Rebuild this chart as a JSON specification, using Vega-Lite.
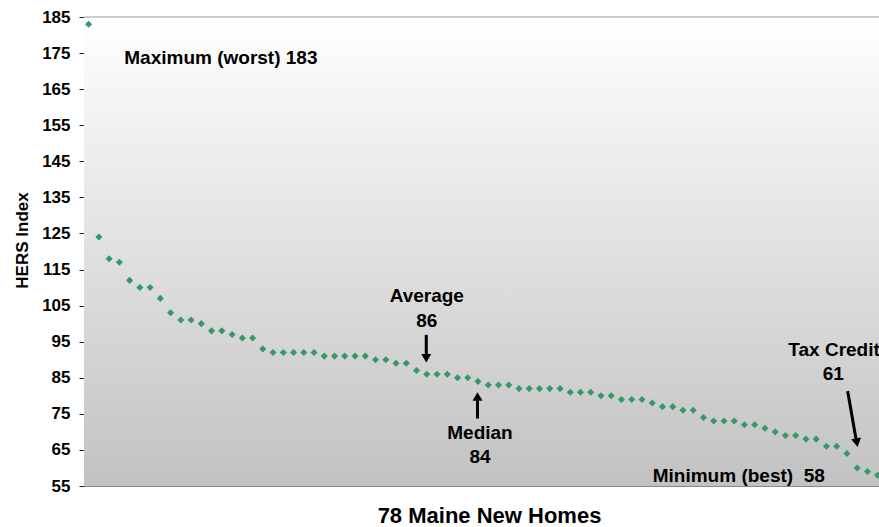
{
  "$schema": "https://vega.github.io/schema/vega-lite/v6.json",
  "autosize": "none",
  "width": 795,
  "height": 469,
  "padding": {"left": 84, "top": 17, "right": 0, "bottom": 41},
  "background": "white",
  "config": {
    "view": {"stroke": null},
    "axisX": {
      "labels": false, "ticks": false, "grid": false,
      "domainColor": "#888888", "domainWidth": 1,
      "titleFont": "Liberation Sans", "titleFontWeight": "bold", "titleFontSize": 22, "titleColor": "#000000",
      "titleX": 405, "titleY": 36, "titleBaseline": "alphabetic", "titleAlign": "center"
    },
    "axisY": {
      "labelOverlap": false, "grid": false,
      "domainColor": "#444444", "domainWidth": 1,
      "tickColor": "#222222", "tickSize": 5,
      "labelFont": "Liberation Sans", "labelFontWeight": "bold", "labelFontSize": 17, "labelColor": "#000000",
      "labelPadding": 9,
      "titleFont": "Liberation Sans", "titleFontWeight": "bold", "titleFontSize": 17, "titleColor": "#000000",
      "titleX": -57, "titleY": 223, "titleBaseline": "alphabetic", "titleAlign": "center", "titleAngle": 270
    }
  },
  "data": {"values": [{}]},
  "datasets": {
    "homes": [
      {"home": 1, "hers": 183}, {"home": 2, "hers": 124}, {"home": 3, "hers": 118}, {"home": 4, "hers": 117},
      {"home": 5, "hers": 112}, {"home": 6, "hers": 110}, {"home": 7, "hers": 110}, {"home": 8, "hers": 107},
      {"home": 9, "hers": 103}, {"home": 10, "hers": 101}, {"home": 11, "hers": 101}, {"home": 12, "hers": 100},
      {"home": 13, "hers": 98}, {"home": 14, "hers": 98}, {"home": 15, "hers": 97}, {"home": 16, "hers": 96},
      {"home": 17, "hers": 96}, {"home": 18, "hers": 93}, {"home": 19, "hers": 92}, {"home": 20, "hers": 92},
      {"home": 21, "hers": 92}, {"home": 22, "hers": 92}, {"home": 23, "hers": 92}, {"home": 24, "hers": 91},
      {"home": 25, "hers": 91}, {"home": 26, "hers": 91}, {"home": 27, "hers": 91}, {"home": 28, "hers": 91},
      {"home": 29, "hers": 90}, {"home": 30, "hers": 90}, {"home": 31, "hers": 89}, {"home": 32, "hers": 89},
      {"home": 33, "hers": 87}, {"home": 34, "hers": 86}, {"home": 35, "hers": 86}, {"home": 36, "hers": 86},
      {"home": 37, "hers": 85}, {"home": 38, "hers": 85}, {"home": 39, "hers": 84}, {"home": 40, "hers": 83},
      {"home": 41, "hers": 83}, {"home": 42, "hers": 83}, {"home": 43, "hers": 82}, {"home": 44, "hers": 82},
      {"home": 45, "hers": 82}, {"home": 46, "hers": 82}, {"home": 47, "hers": 82}, {"home": 48, "hers": 81},
      {"home": 49, "hers": 81}, {"home": 50, "hers": 81}, {"home": 51, "hers": 80}, {"home": 52, "hers": 80},
      {"home": 53, "hers": 79}, {"home": 54, "hers": 79}, {"home": 55, "hers": 79}, {"home": 56, "hers": 78},
      {"home": 57, "hers": 77}, {"home": 58, "hers": 77}, {"home": 59, "hers": 76}, {"home": 60, "hers": 76},
      {"home": 61, "hers": 74}, {"home": 62, "hers": 73}, {"home": 63, "hers": 73}, {"home": 64, "hers": 73},
      {"home": 65, "hers": 72}, {"home": 66, "hers": 72}, {"home": 67, "hers": 71}, {"home": 68, "hers": 70},
      {"home": 69, "hers": 69}, {"home": 70, "hers": 69}, {"home": 71, "hers": 68}, {"home": 72, "hers": 68},
      {"home": 73, "hers": 66}, {"home": 74, "hers": 66}, {"home": 75, "hers": 64}, {"home": 76, "hers": 60},
      {"home": 77, "hers": 59}, {"home": 78, "hers": 58}
    ],
    "notesLeft": [
      {"label": "Maximum (worst) 183", "x": 4.48, "y": 172.0},
      {"label": "Tax Credit", "x": 69.28, "y": 91.1},
      {"label": "Minimum (best)\u00a0 58", "x": 56.05, "y": 56.1}
    ],
    "notesCenter": [
      {"label": "Average", "x": 34.0, "y": 106.0},
      {"label": "86", "x": 34.0, "y": 99.0},
      {"label": "Median", "x": 39.19, "y": 67.9},
      {"label": "84", "x": 39.19, "y": 61.4},
      {"label": "61", "x": 73.67, "y": 84.3}
    ]
  },
  "layer": [
    {
      "mark": {
        "type": "rect",
        "color": {
          "gradient": "linear", "x1": 0, "y1": 0, "x2": 0, "y2": 1,
          "stops": [{"offset": 0, "color": "#ffffff"}, {"offset": 1, "color": "#c2c2c2"}]
        }
      },
      "encoding": {
        "x": {"datum": 0.55, "type": "quantitative", "scale": {"domain": [0.55, 78.13], "nice": false, "zero": false}, "axis": {"title": "78 Maine New Homes"}},
        "x2": {"datum": 78.13},
        "y": {"datum": 185, "type": "quantitative", "scale": {"domain": [55, 185], "nice": false, "zero": false},
              "axis": {"title": "HERS Index", "values": [55, 65, 75, 85, 95, 105, 115, 125, 135, 145, 155, 165, 175, 185]}},
        "y2": {"datum": 55}
      }
    },
    {
      "mark": {"type": "rule", "color": "#999999", "strokeWidth": 1},
      "encoding": {"y": {"datum": 185, "type": "quantitative", "axis": {"title": "HERS Index", "values": [55, 65, 75, 85, 95, 105, 115, 125, 135, 145, 155, 165, 175, 185]}}}
    },
    {
      "data": {"name": "homes"},
      "mark": {"type": "point", "shape": "diamond", "filled": true, "color": "#339966", "size": 50, "opacity": 1},
      "encoding": {
        "x": {"field": "home", "type": "quantitative", "axis": {"title": "78 Maine New Homes"}},
        "y": {"field": "hers", "type": "quantitative", "axis": {"title": "HERS Index", "values": [55, 65, 75, 85, 95, 105, 115, 125, 135, 145, 155, 165, 175, 185]}}
      }
    },
    {
      "mark": {"type": "rule", "color": "#000000", "strokeWidth": 3},
      "encoding": {
        "x": {"datum": 33.95, "type": "quantitative", "axis": {"title": "78 Maine New Homes"}},
        "y": {"datum": 96.9, "type": "quantitative", "axis": {"title": "HERS Index", "values": [55, 65, 75, 85, 95, 105, 115, 125, 135, 145, 155, 165, 175, 185]}},
        "y2": {"datum": 91.2}
      }
    },
    {
      "mark": {"type": "point", "shape": "triangle-down", "filled": true, "color": "#000000", "size": 100, "opacity": 1},
      "encoding": {
        "x": {"datum": 33.95, "type": "quantitative", "axis": {"title": "78 Maine New Homes"}},
        "y": {"datum": 90.4, "type": "quantitative", "axis": {"title": "HERS Index", "values": [55, 65, 75, 85, 95, 105, 115, 125, 135, 145, 155, 165, 175, 185]}}
      }
    },
    {
      "mark": {"type": "rule", "color": "#000000", "strokeWidth": 3},
      "encoding": {
        "x": {"datum": 38.95, "type": "quantitative", "axis": {"title": "78 Maine New Homes"}},
        "y": {"datum": 73.7, "type": "quantitative", "axis": {"title": "HERS Index", "values": [55, 65, 75, 85, 95, 105, 115, 125, 135, 145, 155, 165, 175, 185]}},
        "y2": {"datum": 79.2}
      }
    },
    {
      "mark": {"type": "point", "shape": "triangle-up", "filled": true, "color": "#000000", "size": 100, "opacity": 1},
      "encoding": {
        "x": {"datum": 38.95, "type": "quantitative", "axis": {"title": "78 Maine New Homes"}},
        "y": {"datum": 79.8, "type": "quantitative", "axis": {"title": "HERS Index", "values": [55, 65, 75, 85, 95, 105, 115, 125, 135, 145, 155, 165, 175, 185]}}
      }
    },
    {
      "mark": {"type": "rule", "color": "#000000", "strokeWidth": 3},
      "encoding": {
        "x": {"datum": 75.07, "type": "quantitative", "axis": {"title": "78 Maine New Homes"}},
        "x2": {"datum": 75.91},
        "y": {"datum": 81.3, "type": "quantitative", "axis": {"title": "HERS Index", "values": [55, 65, 75, 85, 95, 105, 115, 125, 135, 145, 155, 165, 175, 185]}},
        "y2": {"datum": 67.7}
      }
    },
    {
      "mark": {"type": "point", "shape": "triangle-down", "filled": true, "color": "#000000", "size": 100, "opacity": 1, "angle": 350},
      "encoding": {
        "x": {"datum": 75.97, "type": "quantitative", "axis": {"title": "78 Maine New Homes"}},
        "y": {"datum": 67.0, "type": "quantitative", "axis": {"title": "HERS Index", "values": [55, 65, 75, 85, 95, 105, 115, 125, 135, 145, 155, 165, 175, 185]}}
      }
    },
    {
      "data": {"name": "notesLeft"},
      "mark": {"type": "text", "align": "left", "baseline": "alphabetic", "font": "Liberation Sans", "fontWeight": "bold", "fontSize": 19, "color": "#000000"},
      "encoding": {
        "x": {"field": "x", "type": "quantitative", "axis": {"title": "78 Maine New Homes"}},
        "y": {"field": "y", "type": "quantitative", "axis": {"title": "HERS Index", "values": [55, 65, 75, 85, 95, 105, 115, 125, 135, 145, 155, 165, 175, 185]}},
        "text": {"field": "label"}
      }
    },
    {
      "data": {"name": "notesCenter"},
      "mark": {"type": "text", "align": "center", "baseline": "alphabetic", "font": "Liberation Sans", "fontWeight": "bold", "fontSize": 19, "color": "#000000"},
      "encoding": {
        "x": {"field": "x", "type": "quantitative", "axis": {"title": "78 Maine New Homes"}},
        "y": {"field": "y", "type": "quantitative", "axis": {"title": "HERS Index", "values": [55, 65, 75, 85, 95, 105, 115, 125, 135, 145, 155, 165, 175, 185]}},
        "text": {"field": "label"}
      }
    }
  ]
}
